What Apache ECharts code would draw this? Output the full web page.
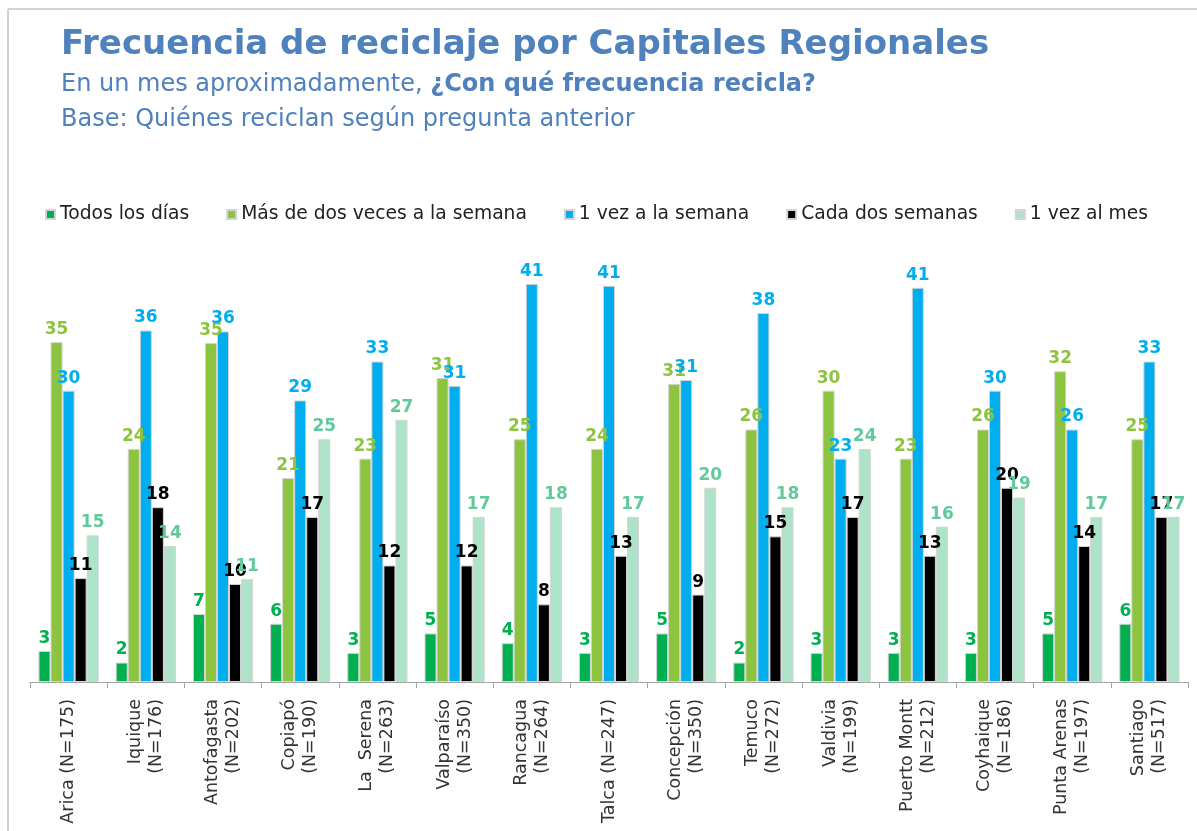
<!DOCTYPE html>
<html>
<head>
<meta charset="utf-8">
<script src="https://cdn.jsdelivr.net/npm/echarts@6/dist/echarts.min.js"></script>
<style>
html, body { margin: 0; padding: 0; background: #fff; }
#main { width: 1197px; height: 831px; }
</style>
</head>
<body>
<div id="main"></div>
<script>
// datos (porcentajes)
var ciudades = ['Arica (N=175)', 'Iquique\n(N=176)', 'Antofagasta\n(N=202)', 'Copiapó\n(N=190)',
	'La  Serena\n(N=263)', 'Valparaíso\n(N=350)', 'Rancagua\n(N=264)', 'Talca (N=247)',
	'Concepción\n(N=350)', 'Temuco\n(N=272)', 'Valdivia\n(N=199)', 'Puerto Montt\n(N=212)',
	'Coyhaique\n(N=186)', 'Punta Arenas\n(N=197)', 'Santiago\n(N=517)'];

var todosLosDias = [3.2, 2, 7, 6, 3, 5, 4, 3, 5, 2, 3, 3, 3, 5, 6];
var masDeDos = [35, 24, 34.9, 21, 23, 31.3, 25, 24, 30.7, 26, 30, 23, 26, 32, 25];
var unaVezSemana = [30, 36.2, 36.1, 29, 33, 30.5, 41, 40.8, 31.1, 38, 23, 40.6, 30, 26, 33];
var cadaDos = [10.7, 18, 10.1, 17, 12, 12, 8, 13, 9, 15, 17, 13, 20, 14, 17];
var unaVezMes = [15.1, 14, 10.6, 25, 27, 17, 18, 17, 20, 18, 24, 16, 19, 17, 17];

var nombres = ['Todos los días', 'Más de dos veces a la semana', '1 vez a la semana', 'Cada dos semanas', '1 vez al mes'];
var colores = ['#00b050', '#8dc43f', '#00adef', '#000000', '#ade3c9'];
var coloresEtiqueta = ['#00b050', '#8dc43f', '#00adef', '#000000', '#62c99a'];
var datos = [todosLosDias, masDeDos, unaVezSemana, cadaDos, unaVezMes];

var fuente = 'DejaVu Sans';
var azul = '#4f81bd';

var series = [];
for (var i = 0; i < datos.length; i++) {
	series.push({
		name: nombres[i],
		type: 'bar',
		data: datos[i],
		barGap: '0%',
		barCategoryGap: '22%',
		itemStyle: { color: colores[i], borderColor: '#d4d4d4', borderWidth: 1 },
		label: {
			show: true,
			position: 'top',
			distance: 4,
			color: coloresEtiqueta[i],
			fontFamily: fuente,
			fontWeight: 'bold',
			fontSize: 17,
			formatter: function (p) { return Math.round(p.value); }
		},
		emphasis: { disabled: true }
	});
}

var myChart = echarts.init(document.getElementById('main'));
myChart.setOption({
	backgroundColor: '#fff',
	animation: false,
	title: [
		{
			text: 'Frecuencia de reciclaje por Capitales Regionales',
			left: 56, top: 23,
			textStyle: { fontFamily: fuente, fontSize: 34, fontWeight: 'bold', color: azul }
		},
		{
			text: '{n|En un mes aproximadamente, }{b|¿Con qué frecuencia recicla?}',
			left: 56, top: 68,
			textStyle: {
				fontWeight: 'normal',
				rich: {
					n: { fontFamily: fuente, fontSize: 24, fontWeight: 'normal', color: azul },
					b: { fontFamily: fuente, fontSize: 24, fontWeight: 'bold', color: azul }
				}
			}
		},
		{
			text: 'Base: Quiénes reciclan según pregunta anterior',
			left: 56, top: 103,
			textStyle: { fontFamily: fuente, fontSize: 24, fontWeight: 'normal', color: azul }
		}
	],
	graphic: [
		{ type: 'line', shape: { x1: 8, y1: 9, x2: 1197, y2: 9 }, style: { stroke: '#d2d2d2', lineWidth: 2 } },
		{ type: 'line', shape: { x1: 8, y1: 9, x2: 8, y2: 831 }, style: { stroke: '#d2d2d2', lineWidth: 2 } }
	],
	legend: {
		left: 40, top: 200,
		itemWidth: 9, itemHeight: 9,
		itemGap: 37,
		icon: 'rect',
		textStyle: { fontFamily: fuente, fontSize: 18.7, color: '#222' },
		data: nombres
	},
	grid: { left: 30, right: 9, top: 245, bottom: 149 },
	xAxis: {
		type: 'category',
		data: ciudades,
		axisLine: { lineStyle: { color: '#a6a6a6', width: 1 } },
		axisTick: { show: true, length: 6, lineStyle: { color: '#a6a6a6' } },
		axisLabel: {
			interval: 0, rotate: 90, margin: 17,
			fontFamily: fuente, fontSize: 17.5, color: '#333', lineHeight: 21
		}
	},
	yAxis: {
		type: 'value', min: 0, max: 45,
		show: false,
		splitLine: { show: false }
	},
	series: series
});
</script>
</body>
</html>
